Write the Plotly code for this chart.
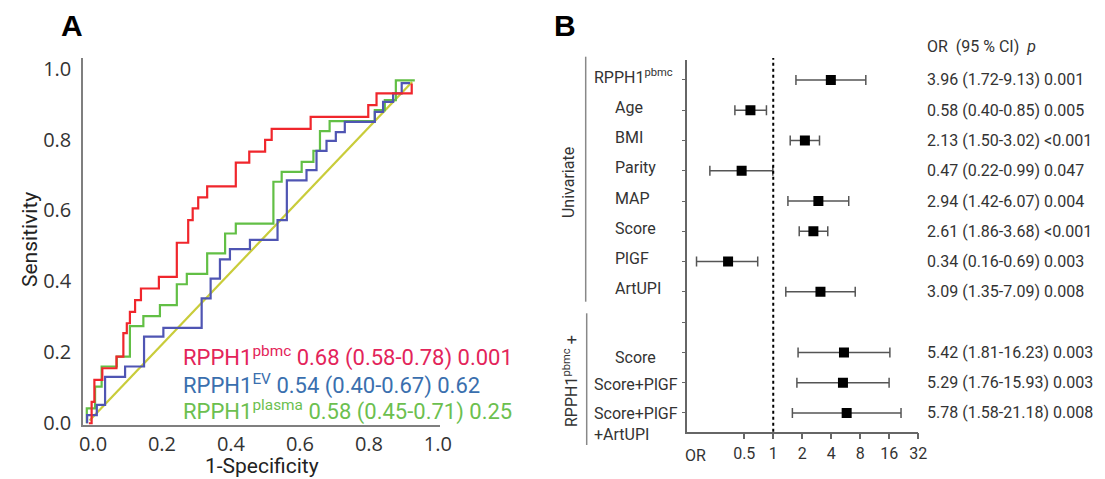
import plotly.graph_objects as go
import numpy as np

W, H = 1105, 479

# ---------------- Panel A data (ROC curves) ----------------
pbmc_fpr = [-0.012, -0.004, 0.004, 0.027, 0.068, 0.088, 0.098, 0.107, 0.122, 0.139, 0.191, 0.243,
            0.276, 0.289, 0.305, 0.331, 0.414, 0.453, 0.499, 0.518, 0.631, 0.798, 0.822, 0.924]
pbmc_tpr = [0.0, 0.060, 0.122, 0.155, 0.188, 0.254, 0.282, 0.314, 0.347, 0.380, 0.413, 0.509,
            0.573, 0.606, 0.637, 0.668, 0.735, 0.766, 0.799, 0.830, 0.864, 0.897, 0.930, 0.958]

ev_fpr = [-0.017, -0.017, 0.011, 0.035, 0.093, 0.148, 0.204, 0.315, 0.341, 0.368, 0.397, 0.455,
          0.535, 0.562, 0.619, 0.648, 0.677, 0.704, 0.730, 0.817, 0.841, 0.870, 0.895, 0.919]
ev_tpr = [0.0, 0.023, 0.052, 0.131, 0.160, 0.244, 0.269, 0.352, 0.408, 0.462, 0.491, 0.517,
          0.573, 0.685, 0.714, 0.768, 0.796, 0.821, 0.850, 0.878, 0.906, 0.930, 0.959, 0.959]

plasma_fpr = [-0.018, -0.018, 0.006, 0.025, 0.069, 0.107, 0.146, 0.194, 0.243, 0.272, 0.331, 0.383,
              0.414, 0.523, 0.547, 0.605, 0.639, 0.658, 0.686, 0.817, 0.846, 0.878, 0.933]
plasma_tpr = [0.0, 0.042, 0.103, 0.160, 0.188, 0.274, 0.302, 0.333, 0.392, 0.421, 0.479, 0.535,
              0.563, 0.681, 0.709, 0.737, 0.768, 0.824, 0.852, 0.883, 0.911, 0.967, 0.967]

ref_fpr = [-0.010, 0.925]
ref_tpr = [0.008, 0.962]

roc_names = ["RPPH1<sup>pbmc</sup>", "RPPH1<sup>EV</sup>", "RPPH1<sup>plasma</sup>"]
roc_stats = ["0.68 (0.58-0.78) 0.001", "0.54 (0.40-0.67) 0.62", "0.58 (0.45-0.71) 0.25"]
a_ticks = [0.0, 0.2, 0.4, 0.6, 0.8, 1.0]

# ---------------- Panel B data (forest plot) ----------------
uni_labels = ["RPPH1<sup>pbmc</sup>", "Age", "BMI", "Parity", "MAP", "Score", "PlGF", "ArtUPI"]
uni_or = [3.96, 0.58, 2.13, 0.47, 2.94, 2.61, 0.34, 3.09]
uni_lo = [1.72, 0.40, 1.50, 0.22, 1.42, 1.86, 0.16, 1.35]
uni_hi = [9.13, 0.85, 3.02, 0.99, 6.07, 3.68, 0.69, 7.09]
uni_p = ["0.001", "0.005", "<0.001", "0.047", "0.004", "<0.001", "0.003", "0.008"]

comb_labels = ["Score", "Score+PlGF", "Score+PlGF<br>+ArtUPI"]
comb_or = [5.42, 5.29, 5.78]
comb_lo = [1.81, 1.76, 1.58]
comb_hi = [16.23, 15.93, 21.18]
comb_p = ["0.003", "0.003", "0.008"]

or_ticks = [0.5, 1, 2, 4, 8, 16, 32]
or_ticktext = ["0.5", "1", "2", "4", "8", "16", "32"]


def px(x):
    return x / W


def py(y):
    return 1 - y / H


fig = go.Figure()

# ---- Panel A traces ----
fig.add_trace(go.Scatter(x=ref_fpr, y=ref_tpr, mode="lines",
                         line=dict(color="#c9cc3a", width=2.2), showlegend=False,
                         xaxis="x", yaxis="y"))
for fx, ty, col in [(plasma_fpr, plasma_tpr, "#62bf45"),
                    (ev_fpr, ev_tpr, "#4f55b3"),
                    (pbmc_fpr, pbmc_tpr, "#f0262c")]:
    fig.add_trace(go.Scatter(x=fx, y=ty, mode="lines", line_shape="hv",
                             line=dict(color=col, width=2.2), showlegend=False,
                             xaxis="x", yaxis="y"))

# ---- Panel B traces ----
labels = uni_labels + comb_labels
ors = uni_or + comb_or
los = uni_lo + comb_lo
his = uni_hi + comb_hi
ps = uni_p + comb_p
n_uni = len(uni_labels)
rows = list(range(n_uni)) + [n_uni + 1 + i for i in range(len(comb_labels))]
n_rows = n_uni + 1 + len(comb_labels)

fig.add_trace(go.Scatter(
    x=ors, y=rows, mode="markers",
    marker=dict(symbol="square", size=10, color="black"),
    error_x=dict(type="data", symmetric=False,
                 array=[h - o for h, o in zip(his, ors)],
                 arrayminus=[o - l for o, l in zip(ors, los)],
                 color="#555555", thickness=1.5, width=5),
    showlegend=False, xaxis="x2", yaxis="y2"))

axis_font_a = dict(family="Open Sans", size=20, color="#333333")

fig.update_layout(
    template="none",
    width=W, height=H,
    margin=dict(l=0, r=0, t=0, b=0, autoexpand=False),
    showlegend=False,
    paper_bgcolor="white", plot_bgcolor="white",
    font=dict(family="Roboto", color="#333333"),
    xaxis=dict(domain=[px(83), px(440)], range=[-0.029, 1.006], anchor="y",
               showline=True, linecolor="#7f7f7f", linewidth=1.5, automargin=False,
               showgrid=False, zeroline=False, ticks="",
               tickvals=a_ticks, ticktext=[f"{t:.1f}" for t in a_ticks],
               tickfont=axis_font_a),
    yaxis=dict(domain=[py(425), py(58)], range=[-0.005, 1.03], anchor="x",
               showline=True, linecolor="#7f7f7f", linewidth=1.5, automargin=False,
               showgrid=False, zeroline=False, ticks="",
               tickvals=a_ticks, ticktext=[f"{t:.1f}" for t in a_ticks],
               tickfont=axis_font_a, ticklabelstandoff=6),
    xaxis2=dict(domain=[px(686.7), px(918.3)], type="log",
                range=[np.log10(0.1265), np.log10(32)], anchor="y2",
                showline=True, linecolor="#666666", linewidth=1.5, automargin=False,
                showgrid=False, zeroline=False, ticks="outside", ticklen=6,
                tickcolor="#666666", tickwidth=1.5,
                tickvals=or_ticks, ticktext=or_ticktext,
                tickfont=dict(family="Roboto", size=16, color="#333333")),
    yaxis2=dict(domain=[py(431.7), py(60)], range=[n_rows - 0.38, -0.66], anchor="x2",
                showline=True, linecolor="#666666", linewidth=1.5, automargin=False,
                showgrid=False, zeroline=False, ticks="outside", ticklen=3,
                tickcolor="#666666", tickvals=list(range(n_rows)),
                showticklabels=False),
)


def note(text, x, y, size=16, color="#333", xanchor="center", yanchor="middle", **kw):
    d = dict(text=text, x=x, y=y, xref=kw.pop("xref", "paper"), yref=kw.pop("yref", "paper"),
             xanchor=xanchor, yanchor=yanchor, showarrow=False,
             font=dict(family=kw.pop("family", "Roboto"), size=size, color=color))
    d.update(kw)
    return d


ann = []
# Panel letters
ann.append(note("<b>A</b>", px(72), py(25), size=30, color="black", family="Liberation Sans"))
ann.append(note("<b>B</b>", px(565), py(25), size=30, color="black", family="Liberation Sans"))
# Panel A axis titles
ann.append(note("Sensitivity", px(30), py(240), size=21, color="#222", textangle=-90))
ann.append(note("1-Specificity", px(262), py(466), size=21, color="#222"))
# Panel A legend text
leg_colors = ["#e3245a", "#3a6fae", "#6cbf4f"]
leg_y = [356, 384, 410]
for name, stat, col, yy in zip(roc_names, roc_stats, leg_colors, leg_y):
    ann.append(note(f"{name} {stat}", px(181), py(yy), size=22, color=col, xanchor="left"))

# Panel B row labels & values
for i, (lab, r, o, l, h, p) in enumerate(zip(labels, rows, ors, los, his, ps)):
    indent = 591.7 if (lab.startswith("RPPH1") or lab.startswith("Score+")) else 612.7
    multi = "<br>" in lab
    if multi:
        shift = 11
    elif i < n_uni:
        shift = 3
    elif i == n_uni:
        shift = -5
    else:
        shift = -2
    ann.append(note(lab, px(indent), r, yref="y2", xanchor="left",
                    yanchor="top" if multi else "middle", yshift=shift, align="left"))
    ann.append(note(f"{o:.2f} ({l:.2f}-{h:.2f}) {p}", px(925), r, yref="y2", xanchor="left"))
ann.append(note("OR  (95 % CI)  <i>p</i>", px(925), py(46.7), xanchor="left"))
ann.append(note("OR", px(695), py(455)))
ann.append(note("Univariate", px(568), py(183), textangle=-90))
ann.append(note("RPPH1<sup>pbmc</sup> +", px(570), py(381), textangle=-90))
fig.update_layout(annotations=ann)

shapes = [
    dict(type="line", xref="x2", x0=1, x1=1, yref="paper", y0=py(431.7), y1=py(58),
         line=dict(color="black", width=2, dash="dot")),
    dict(type="line", xref="paper", x0=px(585.7), x1=px(585.7), yref="paper",
         y0=py(301.7), y1=py(56.7), line=dict(color="#888", width=1.5)),
    dict(type="line", xref="paper", x0=px(586.7), x1=px(586.7), yref="paper",
         y0=py(445), y1=py(313.3), line=dict(color="#888", width=1.5)),
]
fig.update_layout(shapes=shapes)

fig.write_html("out.html", config={"displayModeBar": False},
               post_script="document.body.style.margin='0';document.body.style.padding='0';"
                           "document.body.style.overflow='hidden';")
